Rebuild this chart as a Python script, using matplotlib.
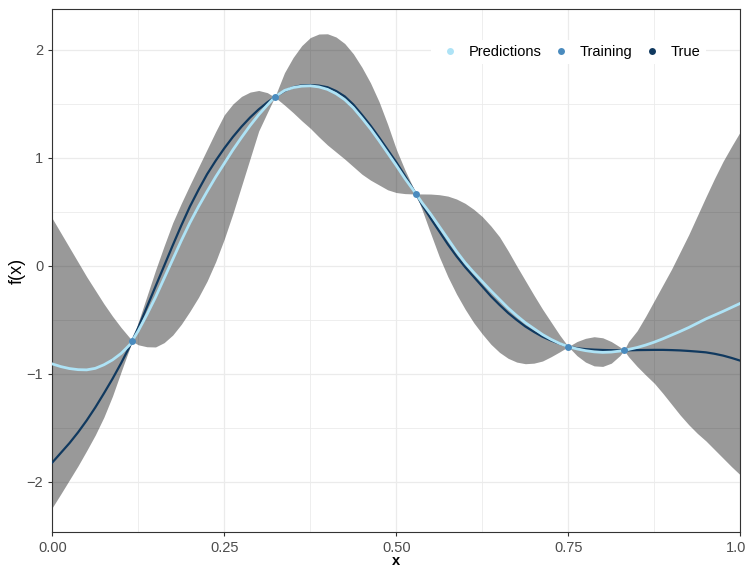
import matplotlib
matplotlib.use("Agg")
import matplotlib.pyplot as plt
from matplotlib.lines import Line2D
from matplotlib.ticker import MultipleLocator

plt.rcParams['font.family'] = ['Liberation Sans', 'DejaVu Sans']

# values
x_grid = [0.0, 0.0125, 0.025, 0.0375, 0.05, 0.0625, 0.075, 0.0875, 0.1, 0.1125,
          0.1158, 0.125, 0.1375, 0.15, 0.1625, 0.175, 0.1875, 0.2, 0.2125, 0.225,
          0.2375, 0.25, 0.2625, 0.275, 0.2875, 0.3, 0.3125, 0.3232, 0.325, 0.3375,
          0.35, 0.3625, 0.375, 0.3875, 0.4, 0.4125, 0.425, 0.4375, 0.45, 0.4625,
          0.475, 0.4875, 0.5, 0.5125, 0.525, 0.5286, 0.5375, 0.55, 0.5625, 0.575,
          0.5875, 0.6, 0.6125, 0.625, 0.6375, 0.65, 0.6625, 0.675, 0.6875, 0.7,
          0.7125, 0.725, 0.7375, 0.75, 0.7625, 0.775, 0.7875, 0.8, 0.8125, 0.825,
          0.831, 0.8375, 0.85, 0.8625, 0.875, 0.8875, 0.9, 0.9125, 0.925, 0.9375,
          0.95, 0.9625, 0.975, 0.9875, 1.0]

pred = [-0.907, -0.932, -0.950, -0.960, -0.962, -0.948, -0.915, -0.87, -0.81, -0.73,
        -0.697, -0.60, -0.45, -0.29, -0.115, 0.06, 0.235, 0.40, 0.55, 0.69,
        0.825, 0.95, 1.075, 1.19, 1.30, 1.40, 1.49, 1.563, 1.572, 1.625,
        1.652, 1.665, 1.668, 1.658, 1.635, 1.595, 1.54, 1.465, 1.37, 1.27,
        1.16, 1.045, 0.93, 0.81, 0.70, 0.667, 0.585, 0.48, 0.365, 0.25,
        0.135, 0.03, -0.06, -0.145, -0.23, -0.31, -0.39, -0.46, -0.525, -0.58,
        -0.635, -0.68, -0.718, -0.747, -0.768, -0.784, -0.795, -0.80, -0.797, -0.788,
        -0.781, -0.773, -0.755, -0.732, -0.705, -0.674, -0.64, -0.606, -0.57, -0.53,
        -0.49, -0.455, -0.42, -0.383, -0.346]

true_f = [-1.82, -1.73, -1.64, -1.54, -1.43, -1.31, -1.18, -1.045, -0.90, -0.745,
          -0.697, -0.57, -0.38, -0.19, 0.0, 0.19, 0.375, 0.55, 0.705, 0.85,
          0.975, 1.09, 1.195, 1.29, 1.375, 1.45, 1.515, 1.563, 1.57, 1.62,
          1.655, 1.672, 1.675, 1.67, 1.655, 1.62, 1.57, 1.495, 1.40, 1.30,
          1.19, 1.075, 0.96, 0.835, 0.705, 0.667, 0.565, 0.44, 0.32, 0.20,
          0.09, -0.01, -0.10, -0.19, -0.28, -0.36, -0.435, -0.50, -0.56, -0.61,
          -0.655, -0.69, -0.72, -0.747, -0.762, -0.77, -0.775, -0.778, -0.78, -0.781,
          -0.781, -0.781, -0.779, -0.778, -0.777, -0.777, -0.779, -0.782, -0.787, -0.793,
          -0.80, -0.813, -0.83, -0.852, -0.877]

upper = [0.44, 0.305, 0.17, 0.035, -0.10, -0.225, -0.35, -0.465, -0.57, -0.665,
         -0.697, -0.52, -0.28, -0.04, 0.185, 0.40, 0.58, 0.75, 0.915, 1.08,
         1.245, 1.40, 1.50, 1.57, 1.61, 1.625, 1.605, 1.563, 1.59, 1.79,
         1.93, 2.04, 2.115, 2.148, 2.15, 2.12, 2.06, 1.965, 1.84, 1.695,
         1.52, 1.31, 1.08, 0.89, 0.72, 0.667, 0.667, 0.666, 0.66, 0.647,
         0.62, 0.58, 0.525, 0.457, 0.37, 0.27, 0.14, 0.0, -0.135, -0.27,
         -0.40, -0.52, -0.64, -0.747, -0.70, -0.67, -0.655, -0.665, -0.70, -0.75,
         -0.781, -0.70, -0.60, -0.465, -0.32, -0.175, -0.03, 0.13, 0.29, 0.465,
         0.64, 0.81, 0.97, 1.11, 1.244]

lower = [-2.237, -2.11, -1.98, -1.85, -1.71, -1.565, -1.40, -1.205, -0.98, -0.76,
         -0.697, -0.73, -0.748, -0.75, -0.71, -0.64, -0.54, -0.42, -0.29, -0.14,
         0.04, 0.25, 0.485, 0.74, 0.995, 1.25, 1.42, 1.563, 1.555, 1.49,
         1.42, 1.345, 1.275, 1.195, 1.12, 1.055, 0.99, 0.92, 0.85, 0.795,
         0.75, 0.705, 0.68, 0.67, 0.667, 0.667, 0.52, 0.30, 0.085, -0.10,
         -0.26, -0.40, -0.525, -0.63, -0.725, -0.80, -0.855, -0.89, -0.905, -0.90,
         -0.88, -0.84, -0.795, -0.747, -0.83, -0.89, -0.925, -0.93, -0.90, -0.83,
         -0.781, -0.84, -0.93, -1.01, -1.086, -1.18, -1.28, -1.38, -1.47, -1.55,
         -1.62, -1.70, -1.78, -1.86, -1.935]

train_x = [0.1158, 0.3232, 0.5286, 0.75, 0.831]
train_y = [-0.697, 1.563, 0.667, -0.747, -0.781]

legend_labels = ['Predictions', 'Training', 'True']
col_pred = '#AEE3F6'
col_train = '#4A8BBE'
col_true = '#10395F'


def main():
    fig = plt.figure(figsize=(7.46, 5.65), dpi=100)
    ax = fig.add_axes([0.0701, 0.0579, 0.9223, 0.9257])

    ax.fill_between(x_grid, lower, upper, color='black', alpha=0.4, lw=0, zorder=2)
    ax.plot(x_grid, true_f, color=col_true, lw=1.6, zorder=3)
    ax.plot(x_grid, pred, color=col_pred, lw=2.0, zorder=4)
    ax.plot(train_x, train_y, 'o', color=col_train, ms=5, mew=0, zorder=5)

    ax.set_xlim(0, 1)
    ax.set_ylim(-2.466, 2.377)
    ax.set_xticks([0, 0.25, 0.5, 0.75, 1.0])
    ax.set_xticklabels(['0.00', '0.25', '0.50', '0.75', '1.00'])
    ax.set_yticks([-2, -1, 0, 1, 2])
    ax.xaxis.set_minor_locator(MultipleLocator(0.125))
    ax.yaxis.set_minor_locator(MultipleLocator(0.5))

    ax.set_axisbelow(True)
    ax.grid(which='major', color='#EBEBEB', lw=0.9)
    ax.grid(which='minor', color='#EBEBEB', lw=0.6)
    ax.tick_params(which='major', length=3, color='#333333', labelsize=10.5,
                   labelcolor='#4D4D4D', width=0.8)
    ax.tick_params(which='minor', length=0)
    for sp in ax.spines.values():
        sp.set_color('#333333')
        sp.set_linewidth(0.8)

    ax.set_xlabel('x', fontsize=10.5, fontweight='bold', labelpad=-1)
    ax.set_ylabel('f(x)', fontsize=13, labelpad=1)

    handles = [Line2D([], [], marker='o', ls='none', ms=5, mew=0, color=c)
               for c in (col_pred, col_train, col_true)]
    leg = ax.legend(handles, legend_labels, loc='center', ncol=3,
                    bbox_to_anchor=(0.7496, 0.918), fontsize=10.5,
                    frameon=True, facecolor='white', edgecolor='none',
                    framealpha=1, fancybox=False, borderpad=0.35,
                    handlelength=2.0, handletextpad=0.3, columnspacing=0.3)
    leg.set_zorder(6)

    fig.savefig('out.png', dpi=100)


if __name__ == "__main__":
    main()
